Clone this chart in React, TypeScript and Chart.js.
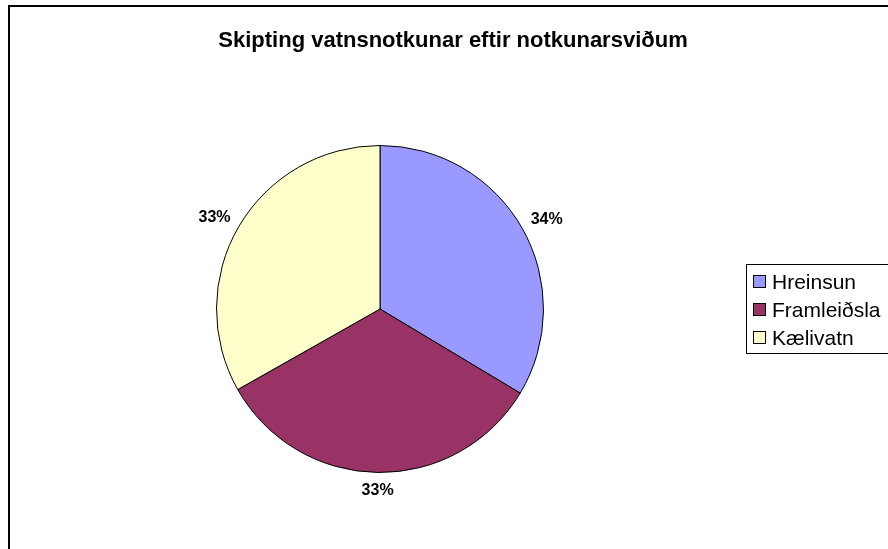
import React, { useEffect, useRef } from "react";
import { Chart, registerables } from "chart.js";

Chart.register(...registerables);

const title = "Skipting vatnsnotkunar eftir notkunarsviðum";
const categories = ["Hreinsun", "Framleiðsla", "Kælivatn"];
const values = [33.6, 33.2, 33.2];
const colors = ["#9999FF", "#993366", "#FFFFCC"];

const FONT = '"Liberation Sans", Arial, sans-serif';

const decorPlugin = {
  id: "decor",
  beforeDraw(chart: any) {
    const ctx = chart.ctx;
    ctx.save();
    ctx.fillStyle = "#ffffff";
    ctx.fillRect(0, 0, chart.width, chart.height);
    // frame
    ctx.strokeStyle = "#000000";
    ctx.lineWidth = 2;
    ctx.strokeRect(9, 6, 1200, 1200);
    // title
    ctx.fillStyle = "#000000";
    ctx.font = `bold 22px ${FONT}`;
    ctx.textAlign = "center";
    ctx.textBaseline = "alphabetic";
    ctx.fillText(title, 453, 47);
    ctx.restore();
  },
  afterDraw(chart: any) {
    const ctx = chart.ctx;
    const meta = chart.getDatasetMeta(0);
    const data = chart.data.datasets[0].data as number[];
    const total = data.reduce((a: number, b: number) => a + b, 0);
    ctx.save();
    // data labels
    ctx.font = `bold 16px ${FONT}`;
    ctx.fillStyle = "#000000";
    ctx.textAlign = "center";
    ctx.textBaseline = "middle";
    const gap = 12;
    meta.data.forEach((arc: any, i: number) => {
      const p = arc.getProps(["x", "y", "startAngle", "endAngle", "outerRadius"], true);
      const a = (p.startAngle + p.endAngle) / 2;
      const txt = Math.round((data[i] / total) * 100) + "%";
      const w = ctx.measureText(txt).width;
      const h = 12;
      const cx = p.x + (p.outerRadius + gap) * Math.cos(a) + Math.cos(a) * (w / 2);
      const cy = p.y + (p.outerRadius + gap) * Math.sin(a) + Math.sin(a) * (h / 2);
      ctx.fillText(txt, cx, cy);
    });
    // legend
    const boxX = 746.5;
    const boxY = 264.5;
    const rowH = 28;
    const firstRow = 282;
    ctx.strokeStyle = "#000000";
    ctx.lineWidth = 1;
    ctx.strokeRect(boxX, boxY, 300, 89);
    ctx.font = `21px ${FONT}`;
    ctx.textAlign = "left";
    ctx.textBaseline = "middle";
    categories.forEach((c, i) => {
      const cy = firstRow + i * rowH;
      ctx.fillStyle = colors[i];
      ctx.fillRect(753.5, cy - 6.5, 12, 12);
      ctx.strokeStyle = "#000000";
      ctx.strokeRect(753.5, cy - 6.5, 12, 12);
      ctx.fillStyle = "#000000";
      ctx.fillText(c, 772, cy + 1);
    });
    ctx.restore();
  },
};

export default function App() {
  const ref = useRef<HTMLCanvasElement | null>(null);
  useEffect(() => {
    if (!ref.current) return;
    const chart = new Chart(ref.current, {
      type: "pie",
      data: {
        labels: categories,
        datasets: [
          {
            data: values,
            backgroundColor: colors,
            borderColor: "#000000",
            borderWidth: 1,
          },
        ],
      },
      options: {
        responsive: false,
        animation: false,
        layout: { padding: { left: 216, top: 145, right: 344, bottom: 76 } },
        plugins: {
          legend: { display: false },
          title: { display: false },
          tooltip: { enabled: false },
        },
      },
      plugins: [decorPlugin],
    });
    return () => chart.destroy();
  }, []);
  return (
    <div style={{ position: "fixed", left: 0, top: 0, width: 888, height: 549, background: "#fff" }}>
      <canvas ref={ref} width={888} height={549} style={{ width: 888, height: 549, display: "block" }} />
    </div>
  );
}
